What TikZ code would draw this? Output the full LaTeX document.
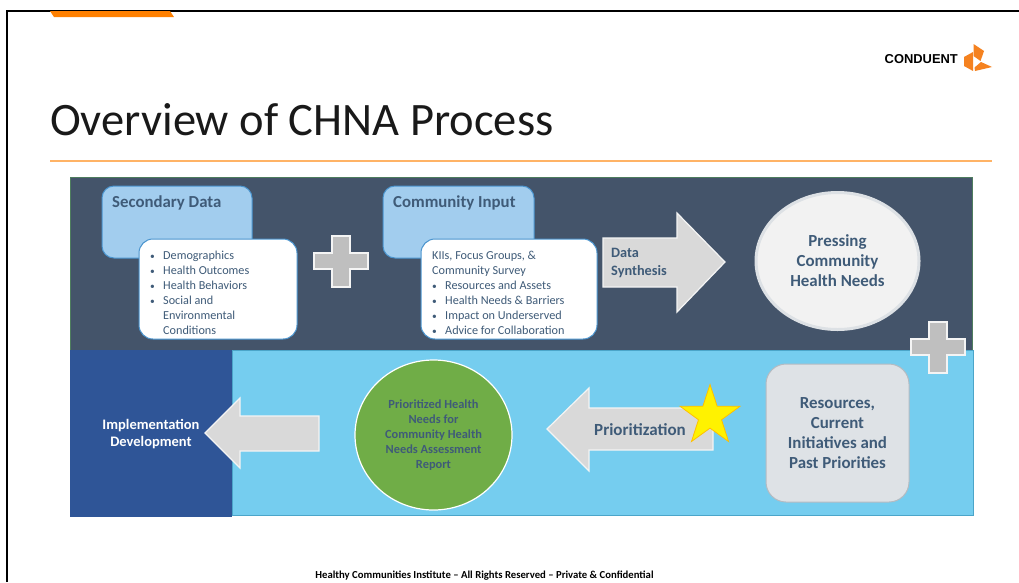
\documentclass[tikz,border=0pt]{standalone}
\usepackage{fontspec}
\setmainfont{Carlito}
\newfontfamily\logofont{Liberation Sans}
\usetikzlibrary{shapes.geometric}
\definecolor{bandDark}{HTML}{44546A}
\definecolor{bandEdge}{HTML}{4E7D5E}
\definecolor{bandLight}{HTML}{75CDEF}
\definecolor{lightEdge}{HTML}{4BA5C9}
\definecolor{implBlue}{HTML}{2F5597}
\definecolor{headBlue}{HTML}{A2CDEE}
\definecolor{edgeBlue}{HTML}{4A94CE}
\definecolor{slateText}{HTML}{3F5B78}
\definecolor{arrowGray}{HTML}{D9D9D9}
\definecolor{plusGray}{HTML}{BFBFBF}
\definecolor{softWhite}{HTML}{F4F4F4}
\definecolor{logoOrange}{HTML}{F58220}
\definecolor{tabOrange}{HTML}{FF8000}
\definecolor{ruleOrange}{HTML}{FFB366}
\definecolor{reportGreen}{HTML}{70AD47}
\definecolor{needsFill}{HTML}{F2F2F2}
\definecolor{needsEdge}{HTML}{DDE1E5}
\definecolor{resFill}{HTML}{DEE2E6}
\definecolor{resEdge}{HTML}{B4BBC2}
\definecolor{starEdge}{HTML}{FFC000}
\newcommand{\bulitem}[1]{\makebox[13pt][l]{\fontsize{9.5}{15}\selectfont\textbullet}#1}
\newcommand{\bulmore}[1]{\hspace*{13pt}#1}
\tikzset{
    headbox/.style={draw=edgeBlue, line width=1pt, fill=headBlue, rounded corners=12pt},
    listbox/.style={draw=edgeBlue, line width=1pt, fill=white, rounded corners=14pt},
    headtext/.style={text=slateText, font=\fontsize{16.8}{19}\selectfont\bfseries, anchor=west, inner sep=0pt},
    listtext/.style={text=slateText, font=\fontsize{12.2}{15}\selectfont, align=left, anchor=north west, inner sep=0pt},
    blockarrow/.style={draw=softWhite, line width=1.2pt, fill=arrowGray},
    plussign/.style={draw=softWhite, line width=1.2pt, fill=plusGray},
    boldtext/.style={text=slateText, font=\fontsize{16.9}{20}\selectfont\bfseries, align=center, inner sep=0pt},
}

\begin{document}
\begin{tikzpicture}[x=1pt, y=-1pt]
    \useasboundingbox (0,0) rectangle (1019,582);
    \fill[white] (0,0) rectangle (1019,582);

    % slide frame and header
    \draw[line width=2pt] (7,582) -- (7,10.5) -- (1019,10.5);
    \fill[tabOrange] (50,11) -- (170,11) -- (174,17) -- (54,17) -- cycle;
    \node[anchor=west, inner sep=0pt, font=\fontsize{46.5}{50}\selectfont, text=black!90] (title) at (50,119.5) {Overview of CHNA Process};
    \fill[ruleOrange] (50,160.3) rectangle (992,161.7);

    % logo
    \node[anchor=east, inner sep=0pt, font=\logofont\fontsize{12.9}{14}\selectfont\bfseries] (logotext) at (958,59.5) {CONDUENT};
    \fill[logoOrange] (973.5,44) -- (984,51) -- (980.5,61) -- (973.5,56) -- cycle;
    \fill[logoOrange] (964,57) -- (973,52) -- (973,71) -- (964,66) -- cycle;
    \fill[logoOrange] (981,62) -- (992,67) -- (975,71) -- (974.5,67.5) -- cycle;

    % bands
    \draw[draw=bandEdge, fill=bandDark] (70,177) rectangle (972,350);
    \draw[draw=lightEdge, fill=bandLight] (232,350) rectangle (973,515);
    \fill[implBlue] (70,350) rectangle (232,517);

    % top row
    \draw[headbox] (102,186) rectangle (252,258);
    \node[headtext] (secondary) at (112,203) {Secondary Data};
    \draw[listbox] (139,239) rectangle (297,339);
    \node[listtext] (secondarylist) at (150,250.5) {\bulitem{Demographics}\\ \bulitem{Health Outcomes}\\ \bulitem{Health Behaviors}\\ \bulitem{Social and}\\ \bulmore{Environmental}\\ \bulmore{Conditions}};

    \draw[plussign] (332,236) -- (350,236) -- (350,253) -- (368,253) -- (368,269) -- (350,269) -- (350,287) -- (332,287) -- (332,269) -- (314,269) -- (314,253) -- (332,253) -- cycle;

    \draw[headbox] (383,186) rectangle (534,258);
    \node[headtext] (community) at (393,203) {Community Input};
    \draw[listbox] (421,239) rectangle (597,339);
    \node[listtext] (communitylist) at (432,250.5) {KIIs, Focus Groups, \&\\ Community Survey\\ \bulitem{Resources and Assets}\\ \bulitem{Health Needs \& Barriers}\\ \bulitem{Impact on Underserved}\\ \bulitem{Advice for Collaboration}};

    \draw[blockarrow] (603,238) -- (677,238) -- (677,213) -- (725,262) -- (677,312) -- (677,287) -- (603,287) -- cycle;
    \node[anchor=west, text=slateText, font=\fontsize{14.3}{17.5}\selectfont\bfseries, align=left, inner sep=0pt] (synthesis) at (611,263) {Data\\ Synthesis};

    \node[ellipse, draw=needsEdge, line width=3pt, fill=needsFill, minimum width=163pt, minimum height=137pt, boldtext] (needs) at (837.5,261) {Pressing\\ Community\\ Health Needs};

    % bottom row
    \draw[plussign] (929,322) -- (947,322) -- (947,339) -- (965,339) -- (965,355) -- (947,355) -- (947,373) -- (929,373) -- (929,355) -- (911,355) -- (911,339) -- (929,339) -- cycle;

    \draw[draw=resEdge, line width=1pt, fill=resFill, rounded corners=20pt] (766,364) rectangle (909,502);
    \node[boldtext] (resources) at (837.5,433.5) {Resources,\\ Current\\ Initiatives and\\ Past Priorities};

    \draw[blockarrow] (713,408) -- (589,408) -- (589,388) -- (547,429) -- (589,471) -- (589,450) -- (713,450) -- cycle;
    \node[text=slateText, font=\fontsize{17}{20}\selectfont\bfseries, inner sep=0pt] (prioritization) at (640,429.5) {Prioritization};
    \node[star, star points=5, star point ratio=2.6, draw=starEdge, line width=0.8pt, fill=yellow, minimum size=63pt, inner sep=0pt] (starmark) at (710,416) {};

    \node[ellipse, draw=white, line width=1.2pt, fill=reportGreen, minimum width=157pt, minimum height=150pt, inner sep=0pt, text=slateText, font=\fontsize{12.4}{15}\selectfont\bfseries, align=center] (report) at (433.5,435) {Prioritized Health\\ Needs for\\ Community Health\\ Needs Assessment\\ Report};

    \draw[blockarrow] (319,416) -- (240,416) -- (240,398) -- (205,433) -- (240,468) -- (240,451) -- (319,451) -- cycle;
    \node[text=white, font=\fontsize{14.5}{17}\selectfont\bfseries, align=center, inner sep=0pt] (implementation) at (151,434) {Implementation\\ Development};

    % footer
    \node[font=\fontsize{10.7}{12}\selectfont\bfseries, inner sep=0pt] (footer) at (484.5,575.5) {Healthy Communities Institute -- All Rights Reserved -- Private \& Confidential};
\end{tikzpicture}
\end{document}
